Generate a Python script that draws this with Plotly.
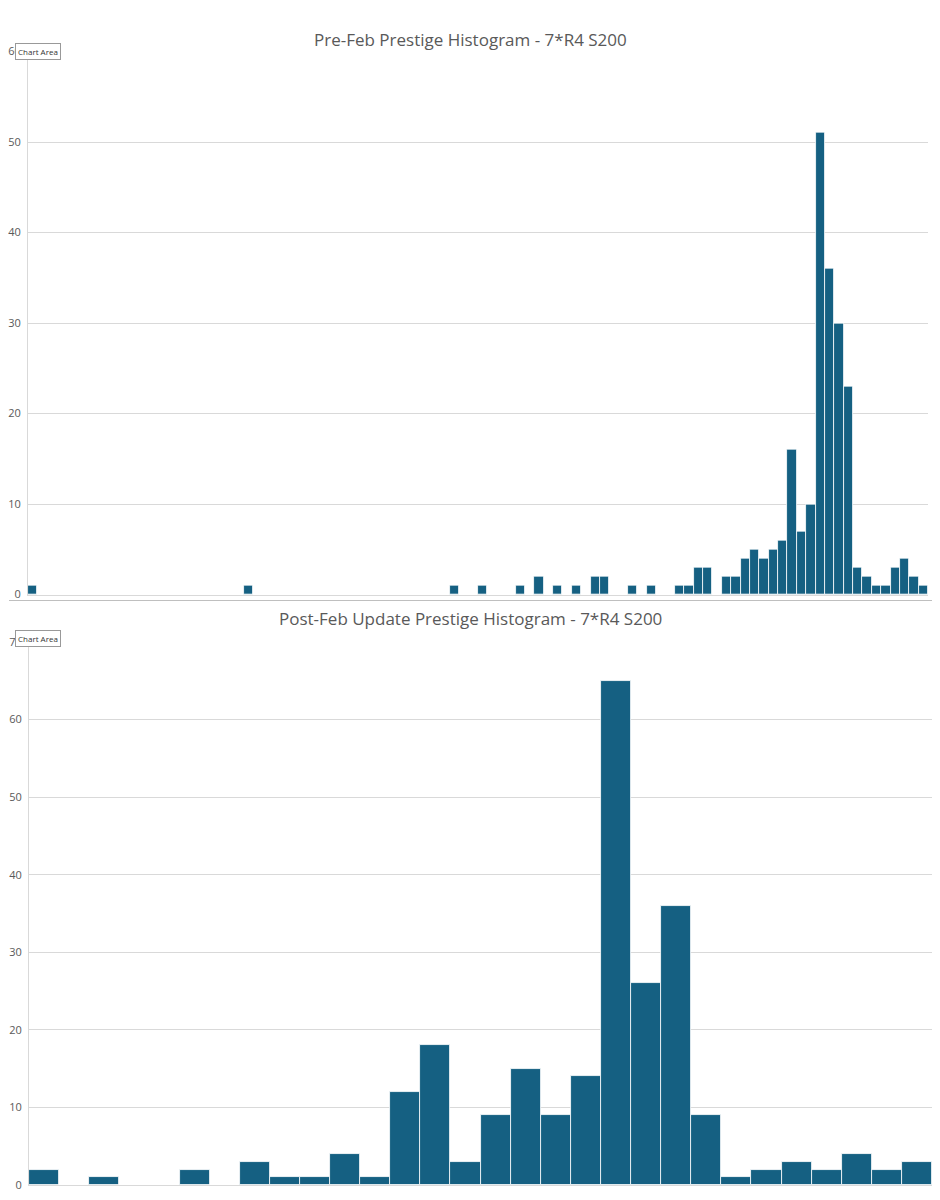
import plotly.graph_objects as go
from plotly.subplots import make_subplots

pre_counts = [0]*96
for i, v in {0:1, 23:1, 45:1, 48:1, 52:1, 54:2, 56:1, 58:1, 60:2, 61:2, 64:1, 66:1,
             69:1, 70:1, 71:3, 72:3, 74:2, 75:2, 76:4, 77:5, 78:4, 79:5, 80:6, 81:16,
             82:7, 83:10, 84:51, 85:36, 86:30, 87:23, 88:3, 89:2, 90:1, 91:1, 92:3,
             93:4, 94:2, 95:1}.items():
    pre_counts[i] = v
post_counts = [2, 0, 1, 0, 0, 2, 0, 3, 1, 1, 4, 1, 12, 18, 3, 9, 15, 9, 14, 65,
               26, 36, 9, 1, 2, 3, 2, 4, 2, 3]
pre_bins = list(range(len(pre_counts)))
post_bins = list(range(len(post_counts)))

title_pre = "Pre-Feb Prestige Histogram - 7*R4 S200"
title_post = "Post-Feb Update Prestige Histogram - 7*R4 S200"
color = "#156082"
grey = "#595959"

# page body adds an 8px margin; build in reference pixels minus 8
W = 924; H = 1184; O = 8
def px(x): return (x - O) / W
def py(y): return 1 - (y - O) / H

fig = make_subplots(rows=2, cols=1)
fig.add_trace(go.Bar(x=pre_bins, y=pre_counts, width=1, marker=dict(color=color, line=dict(color="white", width=0.8))), 1, 1)
fig.add_trace(go.Bar(x=post_bins, y=post_counts, width=1, marker=dict(color=color, line=dict(color="white", width=0.8))), 2, 1)

fig.update_layout(
    width=W, height=H, margin=dict(l=0, r=0, t=0, b=0),
    paper_bgcolor="white", plot_bgcolor="white", showlegend=False, bargap=0,
    font=dict(family="Open Sans, Liberation Sans, sans-serif", color=grey, size=11),
    xaxis=dict(domain=[px(27), px(928)], range=[-0.5, 95.5], showticklabels=False, showgrid=False,
               zeroline=False, showline=True, linecolor="#d9d9d9", ticks=""),
    yaxis=dict(domain=[py(594), py(44)], range=[0, 60], dtick=10, showgrid=True, gridcolor="#d9d9d9",
               zeroline=False, showline=True, linecolor="#d9d9d9", ticks="", ticklabelstandoff=4),
    xaxis2=dict(domain=[px(28), px(932)], range=[-0.5, 29.5], showticklabels=False, showgrid=False,
                zeroline=False, showline=True, linecolor="#d9d9d9", ticks=""),
    yaxis2=dict(domain=[py(1192), py(642)], range=[0, 70], dtick=10, showgrid=True, gridcolor="#d9d9d9",
                zeroline=False, showline=True, linecolor="#d9d9d9", ticks="", ticklabelstandoff=4),
)
fig.add_annotation(text=title_pre, x=0.5, y=py(18), xref="paper", yref="paper", showarrow=False,
                   font=dict(size=17, color=grey))
fig.add_annotation(text=title_post, x=0.5, y=py(618), xref="paper", yref="paper", showarrow=False,
                   font=dict(size=17, color=grey))
for yy in [44, 638]:
    fig.add_annotation(text="Chart Area", x=px(14), y=py(yy), xref="paper", yref="paper", showarrow=False,
                       xanchor="left", yanchor="middle", font=dict(size=8, color="#333"),
                       bgcolor="white", bordercolor="#999", borderwidth=1, borderpad=2)
fig.add_shape(type="line", xref="paper", yref="paper", x0=0, x1=1, y0=py(600), y1=py(600),
              line=dict(color="#bfbfbf", width=1))
fig.write_html("out.html")
